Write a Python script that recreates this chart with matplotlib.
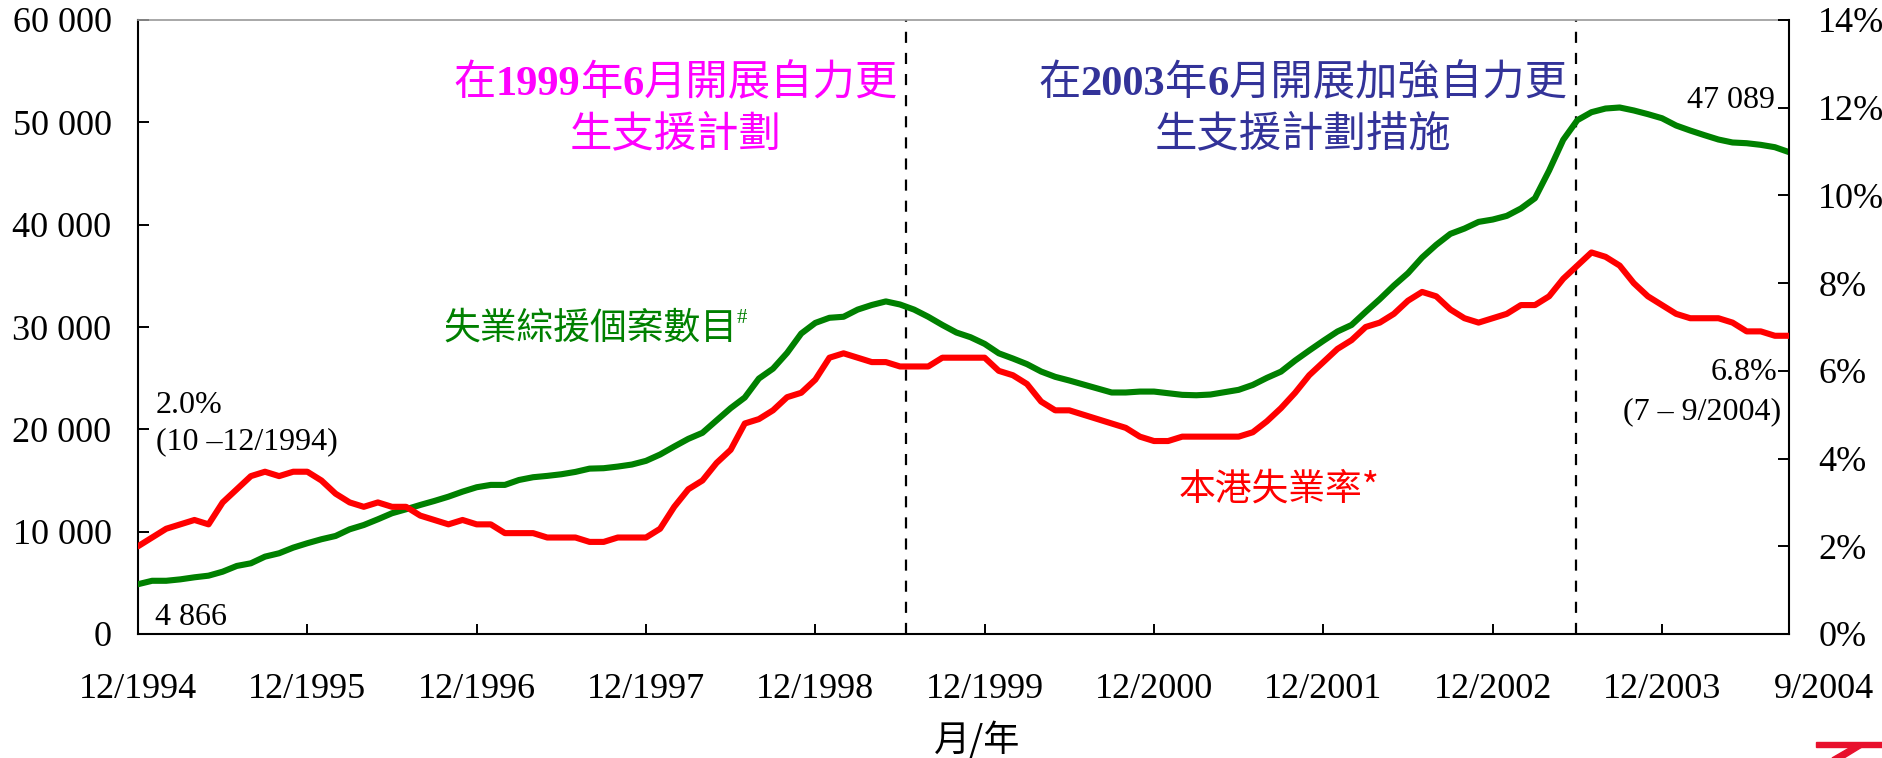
import numpy as np
import pandas as pd
import matplotlib
matplotlib.use("Agg")
import matplotlib.pyplot as plt
import matplotlib.transforms as mtransforms
from matplotlib.patches import Polygon

# ---------------- data ----------------
months = pd.period_range("1994-12", "2004-09", freq="M")

cssa_cases = [4866, 5200, 5200, 5340, 5540, 5700, 6090, 6650, 6910, 7560, 7890, 8440, 8870,
              9260, 9580, 10230, 10650, 11210, 11800, 12190, 12610, 13000, 13420, 13910, 14340,
              14570, 14570, 15050, 15320, 15450, 15610, 15840, 16160, 16200, 16360, 16560, 16920,
              17540, 18320, 19070, 19660, 20870, 22070, 23110, 24960, 25930, 27470, 29360, 30400,
              30900, 31000, 31700, 32150, 32500, 32200, 31700, 31000, 30200, 29460, 29000, 28350,
              27430, 26920, 26370, 25650, 25130, 24770, 24380, 23990, 23600, 23600, 23690, 23690,
              23530, 23370, 23330, 23400, 23630, 23860, 24340, 25030, 25640, 26720, 27700, 28650,
              29560, 30200, 31480, 32720, 34050, 35260, 36790, 38030, 39100, 39620, 40270, 40500,
              40860, 41580, 42590, 45290, 48290, 50210, 50990, 51350, 51450, 51160, 50800, 50400,
              49690, 49200, 48750, 48320, 48030, 47960, 47800, 47570, 47089]

unemp_rate = [2.0, 2.2, 2.4, 2.5, 2.6, 2.5, 3.0, 3.3, 3.6, 3.7, 3.6, 3.7, 3.7,
              3.5, 3.2, 3.0, 2.9, 3.0, 2.9, 2.9, 2.7, 2.6, 2.5, 2.6, 2.5,
              2.5, 2.3, 2.3, 2.3, 2.2, 2.2, 2.2, 2.1, 2.1, 2.2, 2.2, 2.2,
              2.4, 2.9, 3.3, 3.5, 3.9, 4.2, 4.8, 4.9, 5.1, 5.4, 5.5, 5.8,
              6.3, 6.4, 6.3, 6.2, 6.2, 6.1, 6.1, 6.1, 6.3, 6.3, 6.3, 6.3,
              6.0, 5.9, 5.7, 5.3, 5.1, 5.1, 5.0, 4.9, 4.8, 4.7, 4.5, 4.4,
              4.4, 4.5, 4.5, 4.5, 4.5, 4.5, 4.6, 4.85, 5.15, 5.5, 5.9, 6.2,
              6.5, 6.7, 7.0, 7.1, 7.3, 7.6, 7.8, 7.7, 7.4, 7.2, 7.1, 7.2,
              7.3, 7.5, 7.5, 7.7, 8.1, 8.4, 8.7, 8.6, 8.4, 8.0, 7.7, 7.5,
              7.3, 7.2, 7.2, 7.2, 7.1, 6.9, 6.9, 6.8, 6.8]

tick_labels = ["12/1994", "12/1995", "12/1996", "12/1997", "12/1998", "12/1999",
               "12/2000", "12/2001", "12/2002", "12/2003", "9/2004"]
# positions of the two dashed event lines, in months after 12/1994 (June 1999, June 2003)
event_x = [54.4, 101.9]

# ---------------- style ----------------
W, H = 1883, 758
SERIF = "Liberation Serif"
CJK = "Noto Sans CJK TC"
GREEN = "#008000"
RED = "#ff0000"
MAGENTA = "#ff00ff"
NAVY = "#333399"

fig = plt.figure(figsize=(W / 100, H / 100), dpi=100)
fig.patch.set_facecolor("white")
L, R, T, B = 138, 1789, 20, 634
ax = fig.add_axes([L / W, 1 - B / H, (R - L) / W, (B - T) / H])
ax2 = ax.twinx()

x = np.arange(len(months))
tick_pos = [i for i, p in enumerate(months) if f"{p.month}/{p.year}" in tick_labels]

ax.plot(x, cssa_cases, color=GREEN, lw=4.4, solid_capstyle="round", zorder=3)
ax2.plot(x, unemp_rate, color=RED, lw=4.4, solid_capstyle="round", zorder=3)

for xi in event_x:
    ax.axvline(xi, color="black", lw=1.6, linestyle=(0, (5, 4.5)), zorder=2)

ax.set_xlim(0, len(months) - 1)
ax.set_ylim(0, 60000)
ax2.set_ylim(0, 14)

ax.set_xticks(tick_pos)
ax.set_xticklabels([f"{months[i].month}/{months[i].year}" for i in tick_pos])
ax.set_yticks(np.arange(0, 60001, 10000))
ax.set_yticklabels([f"{v:,}".replace(",", " ") for v in range(0, 60001, 10000)])
ax2.set_yticks(np.arange(0, 15, 2))
ax2.set_yticklabels([f"{v}%" for v in range(0, 15, 2)])

ax.tick_params(axis="x", direction="in", length=7.5, width=1.4, pad=28)
ax.tick_params(axis="y", direction="in", length=8, width=1.4, pad=19)
ax2.tick_params(axis="y", direction="in", length=8, width=1.4, pad=21)
for lbl in ax.get_xticklabels() + ax.get_yticklabels() + ax2.get_yticklabels():
    lbl.set_fontfamily(SERIF)
    lbl.set_fontsize(26)

# last x label sits to the right of its tick, as in the reference
last = ax.get_xticklabels()[-1]
last.set_transform(last.get_transform() + mtransforms.ScaledTranslation(0.35, 0, fig.dpi_scale_trans))

for s in ["left", "bottom"]:
    ax.spines[s].set_linewidth(1.5)
    ax.spines[s].set_color("black")
ax.spines["top"].set_color("#9a9a9a")
ax.spines["top"].set_linewidth(1.2)
ax.spines["right"].set_visible(False)
for s in ["left", "bottom", "top"]:
    ax2.spines[s].set_visible(False)
ax2.spines["right"].set_linewidth(1.5)

# ---------------- text helpers ----------------
ident = mtransforms.IdentityTransform()
renderer = fig.canvas.get_renderer()


def rich(segments, x_px, y_px, ha="left", color="black"):
    texts, widths = [], []
    for seg in segments:
        s, kw = seg[0], seg[1]
        t = fig.text(0, 0, s, transform=ident, va="baseline", ha="left", color=color, **kw)
        widths.append(t.get_window_extent(renderer).width)
        texts.append(t)
    total = sum(widths)
    if ha == "center":
        x0 = x_px - total / 2
    elif ha == "right":
        x0 = x_px - total
    else:
        x0 = x_px
    for t, w, seg in zip(texts, widths, segments):
        dy = seg[2] if len(seg) > 2 else 0
        t.set_position((x0, H - y_px + dy))
        x0 += w


cjk30 = dict(family=[CJK], fontsize=30.5)
num30 = dict(family=[SERIF], fontsize=30.5, fontweight="bold")
rich([("在", cjk30), ("1999", num30), ("年", cjk30), ("6", num30), ("月開展自力更", cjk30)],
     676, 95, ha="center", color=MAGENTA)
rich([("生支援計劃", cjk30)], 676, 146, ha="center", color=MAGENTA)
rich([("在", cjk30), ("2003", num30), ("年", cjk30), ("6", num30), ("月開展加強自力更", cjk30)],
     1303, 95, ha="center", color=NAVY)
rich([("生支援計劃措施", cjk30)], 1303, 146, ha="center", color=NAVY)

cjk26 = dict(family=[CJK], fontsize=26.5)
rich([("失業綜援個案數目", cjk26), ("#", dict(family=[SERIF], fontsize=15), 16)], 443, 339, color=GREEN)
rich([("本港失業率*", cjk26)], 1179, 500, color=RED)

num23 = dict(family=[SERIF], fontsize=23)
fmt_n = lambda v: f"{v:,}".replace(",", " ")
rich([(f"{unemp_rate[0]:.1f}%", num23)], 156, 413)
rich([(f"({months[0].month - 2} \u2013{months[0].month}/{months[0].year})", num23)], 156, 449)
rich([(fmt_n(cssa_cases[0]), num23)], 155, 625)
rich([(fmt_n(cssa_cases[-1]), num23)], 1775, 108, ha="right")
rich([(f"{unemp_rate[-1]:.1f}%", num23)], 1777, 380, ha="right")
rich([(f"({months[-1].month - 2} \u2013 {months[-1].month}/{months[-1].year})", num23)], 1781, 419, ha="right")

# axis title at the bottom edge
rich([("月/年", dict(family=[CJK], fontsize=26))], 977, 751, ha="center")

# red logo fragment bottom-right
fig.patches.append(Polygon([(1816, H - 742), (1883, H - 742), (1883, H - 747), (1816, H - 747)],
                           closed=True, transform=ident, color="#e8112d", figure=fig))
fig.patches.append(Polygon([(1851, H - 747), (1862, H - 747), (1844, H - 758), (1832, H - 758)],
                           closed=True, transform=ident, color="#e8112d", figure=fig))

fig.savefig("out.png", dpi=100)
